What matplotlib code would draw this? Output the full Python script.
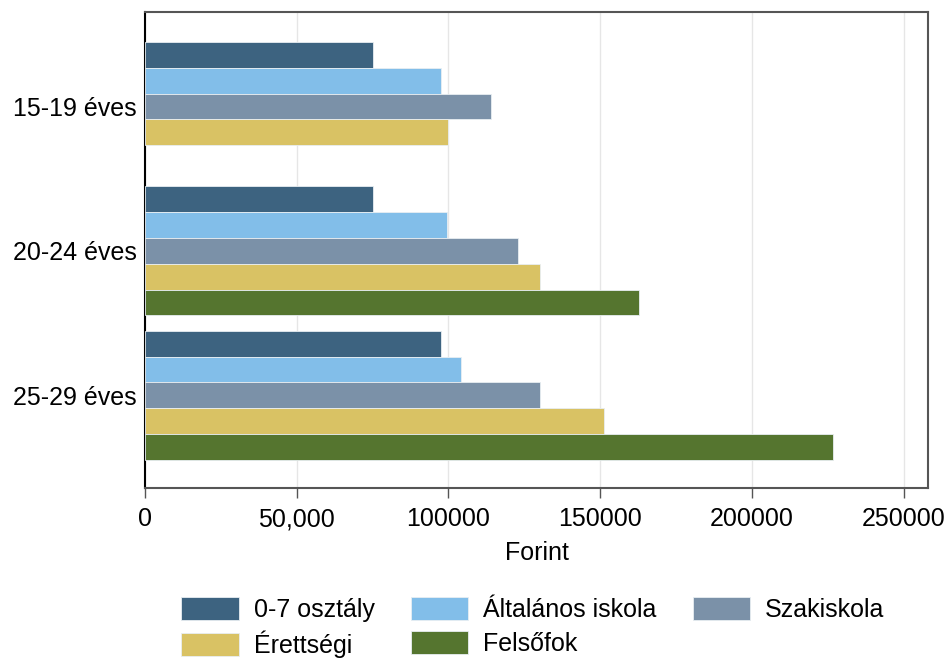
import numpy as np
import matplotlib
matplotlib.use('Agg')
import matplotlib.pyplot as plt

plt.rcParams['font.family'] = ['Liberation Sans', 'DejaVu Sans']

groups = ['15-19 éves', '20-24 éves', '25-29 éves']
series = ['0-7 osztály', 'Általános iskola', 'Szakiskola', 'Érettségi', 'Felsőfok']
colors = ['#3d6380', '#82bee9', '#7b91a8', '#d9c264', '#55752f']

# Forint per group (15-19 has no Felsőfok value)
vals_07 = [75200, 75200, 97400]
vals_alt = [97500, 99600, 104000]
vals_szak = [114000, 122800, 130300]
vals_eretts = [99700, 130300, 151400]
vals_felso = [np.nan, 162700, 226700]
values = [vals_07, vals_alt, vals_szak, vals_eretts, vals_felso]

xticks = [0, 50000, 100000, 150000, 200000, 250000]
xtick_labels = ['0', '50,000', '100000', '150000', '200000', '250000']

fig = plt.figure(figsize=(9.51, 6.64), dpi=100)
ax = fig.add_axes([145/951, 1-488/664, (928-145)/951, (488-12)/664])

gap = 5.6
bars = []
for s, (name, vals, col) in enumerate(zip(series, values, colors)):
    ypos = [g*gap + s for g in range(len(groups))]
    b = ax.barh(ypos, vals, height=1.0, color=col, edgecolor='#e8eef2', linewidth=0.6, label=name, zorder=3)
    bars.append(b)

ax.set_ylim(16.8, -1.67)
ax.set_yticks([g*gap + 2 for g in range(len(groups))])
ax.set_yticklabels(groups, fontsize=18)
ax.tick_params(axis='y', length=0, pad=6)

ax.set_xlim(0, 258000)
ax.set_xticks(xticks)
ax.set_xticklabels(xtick_labels, fontsize=18)
ax.tick_params(axis='x', length=7, width=1, color='#555555', pad=7)
ax.set_xlabel('Forint', fontsize=18, labelpad=7)
ax.grid(axis='x', color='#e6e6e6', linewidth=1, zorder=0)

for side in ['top', 'right', 'bottom']:
    ax.spines[side].set_color('#555555')
    ax.spines[side].set_linewidth(1.5)
ax.spines['left'].set_color('black')
ax.spines['left'].set_linewidth(1.5)

# row-wise legend order
order = [0, 3, 1, 4, 2]
ax.legend([bars[i] for i in order], [series[i] for i in order],
          loc='upper left', bbox_to_anchor=(181/951, 1-597/664), bbox_transform=fig.transFigure,
          ncol=3, frameon=False, fontsize=18, handlelength=2.3, handleheight=1.05,
          handletextpad=0.6, columnspacing=1.45, labelspacing=0.35, borderpad=0, borderaxespad=0)

fig.savefig('out.png', dpi=100)
